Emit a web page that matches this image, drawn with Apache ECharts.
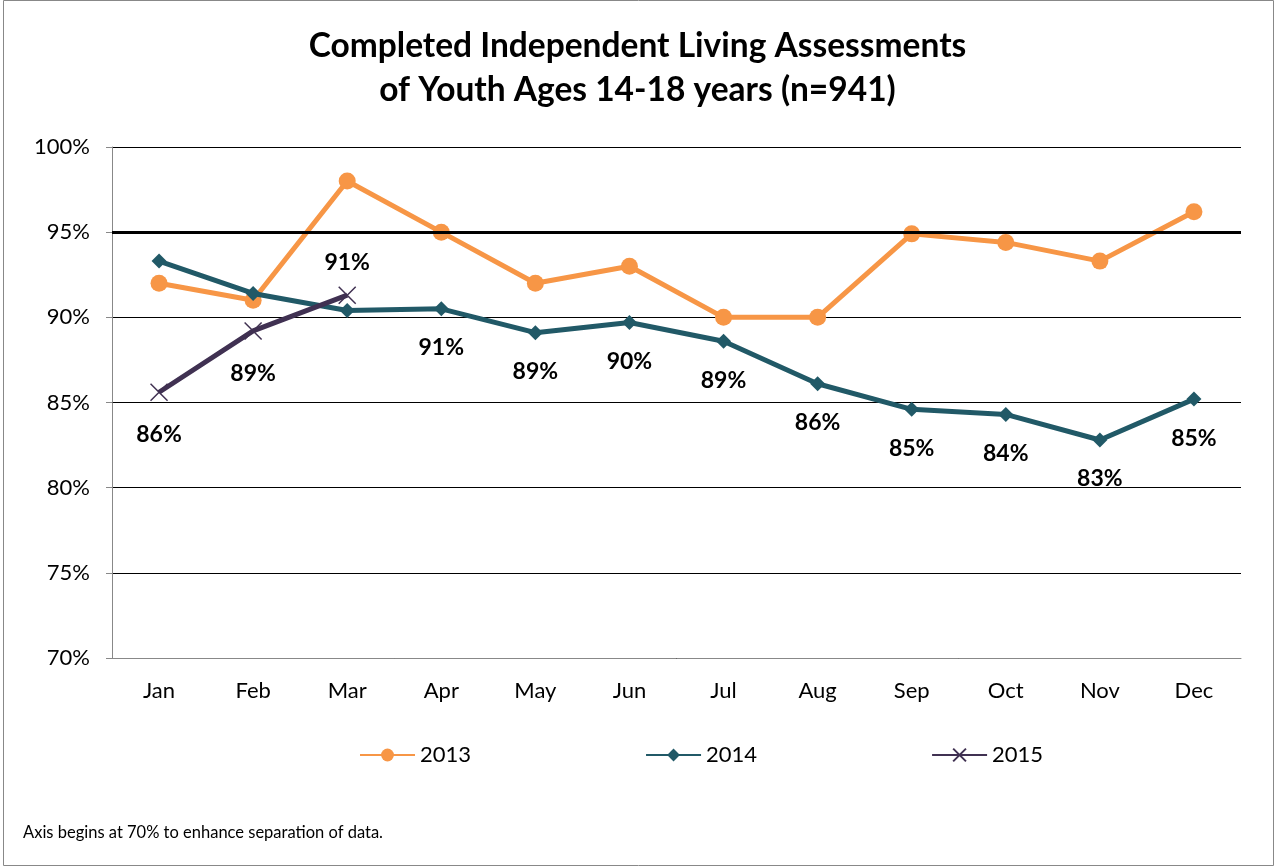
<!DOCTYPE html>
<html>
<head>
<meta charset="utf-8">
<script src="https://cdn.jsdelivr.net/npm/echarts@6/dist/echarts.min.js"></script>
<style>
  html, body { margin: 0; padding: 0; background: #fff; }
  #chart { width: 1275px; height: 867px; }
</style>
</head>
<body>
<div id="chart"></div>
<script>
// months on the x axis
const months = ['Jan', 'Feb', 'Mar', 'Apr', 'May', 'Jun', 'Jul', 'Aug', 'Sep', 'Oct', 'Nov', 'Dec']
// percent of assessments completed
const y2013 = [92, 91, 98, 95, 92, 93, 90, 90, 94.9, 94.4, 93.3, 96.2]
const y2014 = [93.3, 91.4, 90.4, 90.5, 89.1, 89.7, 88.6, 86.1, 84.6, 84.3, 82.8, 85.2]
const y2015 = [85.6, 89.2, 91.3]
const target = 95
// 2014 labels are only drawn from April on (Jan-Mar carry the 2015 labels)
const labelFrom2014 = 3

const FONT = 'Lato, "Liberation Sans", sans-serif'
const pct = v => Math.round(v) + '%'

let chart = echarts.init(document.getElementById('chart'))

let labelStyle = {
  fontFamily: FONT,
  fontSize: 23,
  fontWeight: 'bold',
  color: '#000',
  formatter: p => pct(p.value)
}

let option = {
  animation: false,
  title: {
    text: 'Completed Independent Living Assessments\nof Youth Ages 14-18 years (n=941)',
    left: 'center',
    top: 19,
    textStyle: {
      fontFamily: FONT,
      fontSize: 33.5,
      fontWeight: 'bold',
      color: '#000',
      lineHeight: 44
    }
  },
  graphic: [{
    type: 'rect',
    shape: { x: 3.5, y: 0.5, width: 1270, height: 865 },
    style: { fill: 'none', stroke: '#888', lineWidth: 1 }
  }, {
    type: 'text',
    left: 23,
    top: 824,
    style: {
      text: 'Axis begins at 70% to enhance separation of data.',
      font: '16.5px ' + FONT,
      fill: '#000'
    }
  }],
  legend: {
    bottom: 96,
    left: 354,
    itemGap: 174,
    itemWidth: 55,
    itemHeight: 16,
    textStyle: { fontFamily: FONT, fontSize: 22, color: '#000' },
    data: ['2013', '2014', '2015']
  },
  grid: { left: 112, right: 34, top: 147, bottom: 209 },
  xAxis: {
    type: 'category',
    data: months,
    boundaryGap: true,
    axisLine: { lineStyle: { color: '#888', width: 1 } },
    axisTick: { length: 6, lineStyle: { color: '#888' } },
    axisLabel: { fontFamily: FONT, fontSize: 22, color: '#000', margin: 22 }
  },
  yAxis: {
    type: 'value',
    min: 70,
    max: 100,
    interval: 5,
    axisLine: { show: true, lineStyle: { color: '#888' } },
    axisTick: { show: true, length: 6, lineStyle: { color: '#888' } },
    axisLabel: { fontFamily: FONT, fontSize: 22, color: '#000', margin: 22, formatter: '{value}%' },
    splitLine: { lineStyle: { color: '#000', width: 1.2 } }
  },
  series: [{
    name: '2013',
    type: 'line',
    data: y2013,
    symbol: 'circle',
    symbolSize: 17,
    lineStyle: { width: 5, color: '#F79646' },
    itemStyle: { color: '#F79646' },
    markLine: {
      silent: true,
      symbol: 'none',
      label: { show: false },
      lineStyle: { color: '#000', width: 3, type: 'solid' },
      data: [{ yAxis: target }]
    },
    z: 3
  }, {
    name: '2014',
    type: 'line',
    data: y2014.map((v, i) => ({
      value: v,
      label: { show: i >= labelFrom2014 }
    })),
    symbol: 'diamond',
    symbolSize: 15,
    lineStyle: { width: 5, color: '#215967' },
    itemStyle: { color: '#215967' },
    label: Object.assign({ position: 'bottom', distance: 20 }, labelStyle),
    z: 4
  }, {
    name: '2015',
    type: 'line',
    data: y2015.map((v, i) => ({
      value: v,
      label: i === y2015.length - 1
        ? { position: 'top', distance: 12 }
        : { position: 'bottom', distance: 22 }
    })),
    symbol: 'path://M0,0L10,10M10,0L0,10',
    symbolSize: 17,
    lineStyle: { width: 5, color: '#403152' },
    itemStyle: { color: '#403152', borderColor: '#403152', borderWidth: 1.5 },
    label: Object.assign({ show: true }, labelStyle),
    z: 5
  }]
}

chart.setOption(option)
window.onresize = function () {
  chart.resize()
}
</script>
</body>
</html>
